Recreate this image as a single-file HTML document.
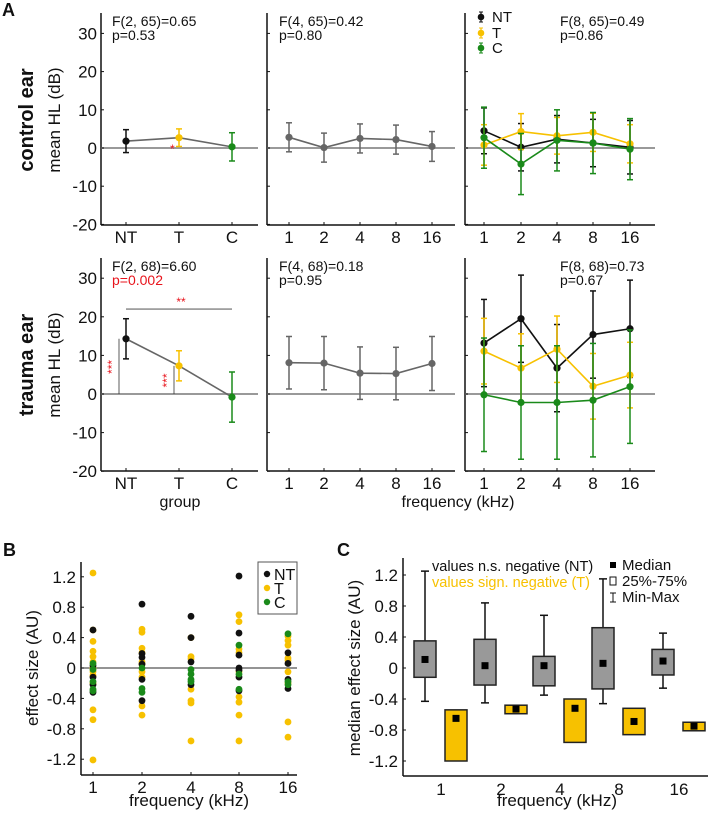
<!DOCTYPE html>
<html><head><meta charset="utf-8"><style>
html,body{margin:0;padding:0;background:#fff;}
svg{display:block;font-family:"Liberation Sans",Arial,sans-serif;}
</style></head><body>
<svg id="fig" width="708" height="816" viewBox="0 0 708 816"></svg>
<script>
// ---------- data ----------
const groups = ["NT","T","C"];
const freqs = ["1","2","4","8","16"];
const yTicksA = [30,20,10,0,-10,-20];
// control ear
const ctrlGroupMean = [1.8, 2.7, 0.3];
const ctrlGroupErr = [3.0, 2.3, 3.7];
const ctrlFreqMean = [2.8, 0.1, 2.5, 2.2, 0.4];
const ctrlFreqErr = [3.8, 3.8, 3.8, 3.8, 3.9];
const ctrlNTMean = [4.5, 0.2, 2.3, 1.3, 0.2];
const ctrlNTErr = [6.0, 6.2, 6.2, 6.2, 7.0];
const ctrlTMean = [0.8, 4.3, 3.2, 4.1, 1.1];
const ctrlTErr = [5.3, 4.7, 4.8, 5.0, 5.0];
const ctrlCMean = [2.7, -4.2, 2.0, 1.3, -0.3];
const ctrlCErr = [8.0, 8.0, 8.0, 8.0, 8.0];
// trauma ear
const trGroupMean = [14.3, 7.3, -0.8];
const trGroupErr = [5.2, 3.9, 6.5];
const trFreqMean = [8.1, 8.0, 5.4, 5.3, 7.9];
const trFreqErr = [6.8, 6.9, 6.8, 6.8, 7.0];
const trNTMean = [13.2, 19.5, 6.7, 15.4, 16.9];
const trNTErr = [11.3, 11.3, 11.3, 11.3, 12.6];
const trTMean = [11.1, 6.7, 11.6, 2.0, 4.9];
const trTErr = [8.5, 8.9, 8.6, 8.5, 8.5];
const trCMean = [-0.2, -2.2, -2.2, -1.6, 1.9];
const trCErr = [14.7, 14.7, 14.7, 14.7, 14.7];
// panel B
const yTicksB = [1.2,0.8,0.4,0,-0.4,-0.8,-1.2];
const esNT = [[0.5,0.03,-0.12,-0.22,-0.32],[0.84,0.19,0.14,0.05,-0.15,-0.43],[0.68,0.4,0.08,-0.22],[1.21,0.46,0.17,0.0,-0.03,-0.12,-0.3],[0.2,0.06,-0.15,-0.27]];
const esT = [[1.25,0.5,0.35,0.22,0.15,0.08,0.0,-0.05,-0.1,-0.2,-0.55,-0.68,-1.21],[0.51,0.47,0.26,0.2,0.08,0.05,-0.05,-0.12,-0.5,-0.62],[0.4,0.15,0.12,-0.28,-0.43,-0.46,-0.96],[0.7,0.61,0.25,0.2,-0.05,-0.38,-0.45,-0.62,-0.96],[0.42,0.36,0.3,0.13,0.1,-0.05,-0.2,-0.71,-0.91]];
const esC = [[0.06,-0.02,-0.18,-0.28,-0.3],[0.0,-0.27,-0.32],[-0.02,-0.08,-0.15,-0.18],[0.3,-0.08,-0.28],[0.45,-0.18,-0.22]];
// panel C
const ntMin = [-0.43,-0.45,-0.35,-0.46,-0.26];
const ntMax = [1.25,0.84,0.68,1.15,0.45];
const ntQ1 = [-0.12,-0.22,-0.23,-0.27,-0.09];
const ntQ3 = [0.35,0.37,0.15,0.52,0.24];
const ntMed = [0.11,0.03,0.03,0.06,0.09];
const tQ1 = [-1.2,-0.59,-0.96,-0.86,-0.81];
const tQ3 = [-0.54,-0.48,-0.4,-0.52,-0.7];
const tMed = [-0.65,-0.53,-0.52,-0.69,-0.75];

// ---------- helpers ----------
const NS="http://www.w3.org/2000/svg";
const svg=document.getElementById('fig');
function mk(tag,attrs,parent,text){const e=document.createElementNS(NS,tag);for(const k in attrs)e.setAttribute(k,attrs[k]);if(text!==undefined)e.textContent=text;(parent||svg).appendChild(e);return e;}
const BLK="#111", YEL="#f7c100", GRN="#1a8a1a", GRY="#666";

function txt(x,y,s,size,opts,name){
  const o=Object.assign({x:x,y:y,'font-size':size,fill:'#111'},opts||{});
  const e=mk('text',o,svg,s);
  
  
  return e;
}

function panelA(x0,x1,yTop,yBot,y0,k,xs,labels,withYLabels,name){
  const Y=v=>y0-v*k;
  const g=mk('g',{});
  
  
  mk('line',{x1:x0,y1:yTop,x2:x0,y2:yBot,stroke:'#111','stroke-width':1.5},g);
  mk('line',{x1:x0,y1:yBot,x2:x1,y2:yBot,stroke:'#111','stroke-width':1.5},g);
  mk('line',{x1:x0,y1:Y(0),x2:x1,y2:Y(0),stroke:'#999','stroke-width':2},g);
  yTicksA.forEach(v=>{
    mk('line',{x1:x0,y1:Y(v),x2:x0+3,y2:Y(v),stroke:'#111','stroke-width':1},g);
    if(withYLabels){const t=mk('text',{x:x0-4,y:Y(v)+6,'font-size':17,'text-anchor':'end',fill:'#111'},g,String(v));
      }
  });
  labels.forEach((l,i)=>{
    mk('line',{x1:xs[i],y1:yBot,x2:xs[i],y2:yBot-3,stroke:'#111'},g);
    const t=mk('text',{x:xs[i],y:yBot+18,'font-size':17,'text-anchor':'middle',fill:'#111'},g,l);
    
  });
  return {g,Y};
}
function series(g,Y,xs,means,errs,colors,lineColor,name){
  const s=mk('g',{},g);
  
  
  let d='';means.forEach((m,i)=>{d+=(i?'L':'M')+xs[i]+','+Y(m);});
  mk('path',{d:d,fill:'none',stroke:lineColor,'stroke-width':1.6},s);
  means.forEach((m,i)=>{
    const c=Array.isArray(colors)?colors[i]:colors;
    const t=Y(m+errs[i]),b=Y(m-errs[i]);
    mk('line',{x1:xs[i],y1:t,x2:xs[i],y2:b,stroke:c,'stroke-width':1.5},s);
    mk('line',{x1:xs[i]-3,y1:t,x2:xs[i]+3,y2:t,stroke:c,'stroke-width':1.5},s);
    mk('line',{x1:xs[i]-3,y1:b,x2:xs[i]+3,y2:b,stroke:c,'stroke-width':1.5},s);
    const p=mk('circle',{cx:xs[i],cy:Y(m),r:3.6,fill:c},s);
    
    
  });
}

// ---------- panel A ----------
const xsG=[126,179,232];
const xsF2=[289,324,360,396,432];
const xsF3=[484,521,557,593,630];
txt(2,16,'A',18,{'font-weight':'bold'},'panel-a-label');

function row(yTop,yBot,y0,k,d,names){
  const p1=panelA(101,258,yTop,yBot,y0,k,xsG,groups,true,names+'-group-panel');
  series(p1.g,p1.Y,xsG,d.gm,d.ge,[BLK,YEL,GRN],GRY,'group-means');
  const p2=panelA(267,455,yTop,yBot,y0,k,xsF2,freqs,false,names+'-frequency-panel');
  series(p2.g,p2.Y,xsF2,d.fm,d.fe,GRY,GRY,'frequency-means');
  const p3=panelA(465,655,yTop,yBot,y0,k,xsF3,freqs,false,names+'-group-frequency-panel');
  series(p3.g,p3.Y,xsF3,d.nm,d.ne,BLK,BLK,'nt-series');
  series(p3.g,p3.Y,xsF3,d.tm,d.te,YEL,YEL,'t-series');
  series(p3.g,p3.Y,xsF3,d.cm,d.ce,GRN,GRN,'c-series');
  return p1;
}
const r1=row(13,225,148,3.82,{gm:ctrlGroupMean,ge:ctrlGroupErr,fm:ctrlFreqMean,fe:ctrlFreqErr,nm:ctrlNTMean,ne:ctrlNTErr,tm:ctrlTMean,te:ctrlTErr,cm:ctrlCMean,ce:ctrlCErr},'control');
const r2=row(258,471,394,3.86,{gm:trGroupMean,ge:trGroupErr,fm:trFreqMean,fe:trFreqErr,nm:trNTMean,ne:trNTErr,tm:trTMean,te:trTErr,cm:trCMean,ce:trCErr},'trauma');

// stats text
txt(112,26,'F(2, 65)=0.65',14,{},'anova-stat');
txt(112,40,'p=0.53',14,{},'p-value');
txt(279,26,'F(4, 65)=0.42',14,{},'anova-stat');
txt(279,40,'p=0.80',14,{},'p-value');
txt(560,26,'F(8, 65)=0.49',14,{},'anova-stat');
txt(560,40,'p=0.86',14,{},'p-value');
txt(112,271,'F(2, 68)=6.60',14,{},'anova-stat');
txt(112,285,'p=0.002',14,{fill:'#e8141c'},'p-value-significant');
txt(279,271,'F(4, 68)=0.18',14,{},'anova-stat');
txt(279,285,'p=0.95',14,{},'p-value');
txt(560,271,'F(8, 68)=0.73',14,{},'anova-stat');
txt(560,285,'p=0.67',14,{},'p-value');
txt(170,153,'*',12,{fill:'#e8141c'},'significance-star');

// legend in A top-right
[[BLK,'NT',17],[YEL,'T',33],[GRN,'C',48]].forEach(([c,l,y])=>{
  const g=mk('g',{});
  
  
  mk('line',{x1:481,y1:y-5,x2:481,y2:y+5,stroke:c,'stroke-width':1.2},g);
  mk('line',{x1:479,y1:y-5,x2:483,y2:y-5,stroke:c},g);
  mk('line',{x1:479,y1:y+5,x2:483,y2:y+5,stroke:c},g);
  mk('circle',{cx:481,cy:y,r:3.3,fill:c},g);
  mk('text',{x:492,y:y+5,'font-size':15,fill:'#111'},g,l);
});

// significance markers bottom row
(function(){
  const Y=r2.Y;
  mk('line',{x1:126,y1:Y(22),x2:232,y2:Y(22),stroke:GRY,'stroke-width':1.2});
  txt(181,Y(22)-3,'**',12,{fill:'#e8141c','text-anchor':'middle'},'significance-nt-c');
  mk('line',{x1:119,y1:Y(0),x2:119,y2:Y(trGroupMean[0]),stroke:'#333','stroke-width':0.8});
  mk('line',{x1:174,y1:Y(0),x2:174,y2:Y(trGroupMean[1]),stroke:'#333','stroke-width':0.8});
  const a=txt(0,0,'***',12,{fill:'#e8141c','text-anchor':'middle',transform:`translate(116,${Y(7)}) rotate(-90)`},'significance-nt');
  const b=txt(0,0,'***',12,{fill:'#e8141c','text-anchor':'middle',transform:`translate(171,${Y(3.5)}) rotate(-90)`},'significance-t');
})();

// y titles
txt(0,0,'control ear',20,{'font-weight':'bold','text-anchor':'middle',transform:'translate(33,120) rotate(-90)'},'row-title-control');
txt(0,0,'mean HL (dB)',17,{'text-anchor':'middle',transform:'translate(60,120) rotate(-90)'},'y-axis-title');
txt(0,0,'trauma ear',20,{'font-weight':'bold','text-anchor':'middle',transform:'translate(33,365) rotate(-90)'},'row-title-trauma');
txt(0,0,'mean HL (dB)',17,{'text-anchor':'middle',transform:'translate(60,365) rotate(-90)'},'y-axis-title');
txt(180,507,'group',16,{'text-anchor':'middle'},'x-axis-title-group');
txt(458,507,'frequency (kHz)',16,{'text-anchor':'middle'},'x-axis-title-frequency');

// ---------- panel B ----------
txt(3,556,'B',18,{'font-weight':'bold'},'panel-b-label');
(function(){
  const x0=81,x1=297,yT=562,yB=775,xs=[93,142,191,239,288];
  const Y=v=>668-v*76;
  const g=mk('g',{});
  
  
  mk('line',{x1:x0,y1:yT,x2:x0,y2:yB,stroke:'#111','stroke-width':1.5},g);
  mk('line',{x1:x0,y1:yB,x2:x1,y2:yB,stroke:'#111','stroke-width':1.5},g);
  mk('line',{x1:x0,y1:Y(0),x2:x1,y2:Y(0),stroke:'#555','stroke-width':1.2},g);
  yTicksB.forEach(v=>{mk('line',{x1:x0,y1:Y(v),x2:x0+3,y2:Y(v),stroke:'#111'},g);
    const t=mk('text',{x:x0-5,y:Y(v)+6,'font-size':17,'text-anchor':'end',fill:'#111'},g,String(v));
    });
  freqs.forEach((f,i)=>{mk('line',{x1:xs[i],y1:yB,x2:xs[i],y2:yB-3,stroke:'#111'},g);
    const t=mk('text',{x:xs[i],y:yB+18,'font-size':17,'text-anchor':'middle',fill:'#111'},g,f);
    });
  [[esT,YEL],[esNT,BLK],[esC,GRN]].forEach(([arr,c])=>{
    arr.forEach((vals,i)=>vals.forEach(v=>{
      const p=mk('circle',{cx:xs[i],cy:Y(v),r:3.4,fill:c},g);
      
      
    }));
  });
  const lg=mk('g',{},g);
  
  
  mk('rect',{x:258,y:562,width:39,height:52,fill:'#fff',stroke:'#555'},lg);
  [[BLK,'NT',574],[YEL,'T',588],[GRN,'C',602]].forEach(([c,l,y])=>{
    mk('circle',{cx:267,cy:y,r:3.2,fill:c},lg);
    mk('text',{x:274,y:y+6,'font-size':16,fill:'#111'},lg,l);
  });
  txt(0,0,'effect size (AU)',17,{'text-anchor':'middle',transform:'translate(38,668) rotate(-90)'},'y-axis-title-b');
  txt(189,806,'frequency (kHz)',17,{'text-anchor':'middle'},'x-axis-title-b');
})();

// ---------- panel C ----------
txt(337,556,'C',18,{'font-weight':'bold'},'panel-c-label');
(function(){
  const x0=403,x1=708,yT=558,yB=776,xs=[441,501,560,619,679];
  const Y=v=>668-v*77.5;
  const g=mk('g',{});
  
  
  mk('line',{x1:x0,y1:yT,x2:x0,y2:yB,stroke:'#111','stroke-width':1.5},g);
  mk('line',{x1:x0,y1:yB,x2:x1,y2:yB,stroke:'#111','stroke-width':1.5},g);
  yTicksB.forEach(v=>{mk('line',{x1:x0,y1:Y(v),x2:x0+3,y2:Y(v),stroke:'#111'},g);
    const t=mk('text',{x:x0-5,y:Y(v)+6,'font-size':17,'text-anchor':'end',fill:'#111'},g,String(v));
    });
  freqs.forEach((f,i)=>{
    const t=mk('text',{x:xs[i],y:yB+19,'font-size':17,'text-anchor':'middle',fill:'#111'},g,f);
    });
  freqs.forEach((f,i)=>{
    const cx=xs[i]-16;
    const b=mk('g',{},g);
    
    
    mk('line',{x1:cx,y1:Y(ntMax[i]),x2:cx,y2:Y(ntMin[i]),stroke:'#111','stroke-width':1.5},b);
    mk('line',{x1:cx-4,y1:Y(ntMax[i]),x2:cx+4,y2:Y(ntMax[i]),stroke:'#111','stroke-width':1.5},b);
    mk('line',{x1:cx-4,y1:Y(ntMin[i]),x2:cx+4,y2:Y(ntMin[i]),stroke:'#111','stroke-width':1.5},b);
    mk('rect',{x:cx-11,y:Y(ntQ3[i]),width:22,height:Y(ntQ1[i])-Y(ntQ3[i]),fill:'#999',stroke:'#222','stroke-width':1.5},b);
    mk('rect',{x:cx-3.5,y:Y(ntMed[i])-3.5,width:7,height:7,fill:'#000'},b);
    const tx=xs[i]+15;
    const y=mk('g',{},g);
    
    
    mk('rect',{x:tx-11,y:Y(tQ3[i]),width:22,height:Y(tQ1[i])-Y(tQ3[i]),fill:YEL,stroke:'#222','stroke-width':1.5},y);
    mk('rect',{x:tx-3.5,y:Y(tMed[i])-3.5,width:7,height:7,fill:'#000'},y);
  });
  txt(432,571,'values n.s. negative (NT)',14.5,{},'legend-nt-text');
  txt(432,587,'values sign. negative (T)',14.5,{fill:YEL},'legend-t-text');
  const lg=mk('g',{},g);
  
  
  mk('rect',{x:610,y:562,width:6,height:6,fill:'#000'},lg);
  mk('text',{x:622,y:570,'font-size':15,fill:'#111'},lg,'Median');
  mk('rect',{x:610,y:577,width:6,height:8,fill:'#fff',stroke:'#111'},lg);
  mk('text',{x:622,y:586,'font-size':15,fill:'#111'},lg,'25%-75%');
  mk('path',{d:'M610,593H616M613,593V602M610,602H616',stroke:'#111',fill:'none'},lg);
  mk('text',{x:622,y:602,'font-size':15,fill:'#111'},lg,'Min-Max');
  txt(0,0,'median effect size (AU)',17,{'text-anchor':'middle',transform:'translate(360,668) rotate(-90)'},'y-axis-title-c');
  txt(557,806,'frequency (kHz)',17,{'text-anchor':'middle'},'x-axis-title-c');
})();
</script>
</body></html>
